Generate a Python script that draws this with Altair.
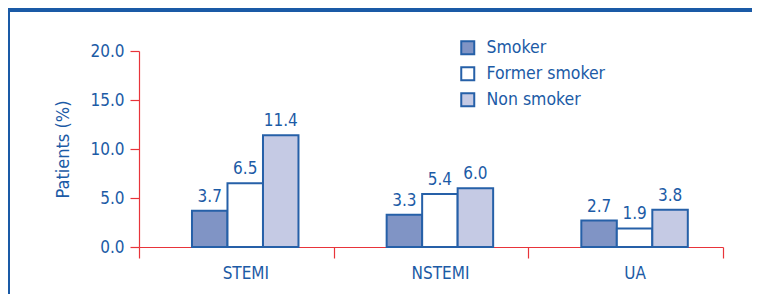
import altair as alt
import pandas as pd

categories = ["STEMI", "NSTEMI", "UA"]
groups = ["Smoker", "Former smoker", "Non smoker"]
smoker = [3.7, 3.3, 2.7]
former = [6.5, 5.4, 1.9]
non_smoker = [11.4, 6.0, 3.8]
y_ticks = [0, 5, 10, 15, 20]

rows = []
for i, c in enumerate(categories):
    for g, vals in zip(groups, [smoker, former, non_smoker]):
        rows.append({"cat": c, "group": g, "value": vals[i]})
df = pd.DataFrame(rows)

BLUE = "#1c5ba6"
RED = "#e8343a"
FONT = "DejaVu Sans Condensed"

offset_scale = alt.Scale(domain=["_gap"] + groups, paddingInner=0,
                         paddingOuter=0.742, align=0.332)

x_enc = alt.X("cat:N", sort=categories, title=None,
              scale=alt.Scale(paddingInner=0, paddingOuter=0),
              axis=alt.Axis(domainColor=RED, tickColor=RED, tickSize=11, tickWidth=1.2,
                            domainWidth=1.2, tickBand="extent", labelAngle=0,
                            labelColor=BLUE, labelFontSize=17, labelFont=FONT,
                            labelOffset=9, labelPadding=7, grid=False))
y_enc = alt.Y("value:Q", title="Patients (%)",
              scale=alt.Scale(domain=[0, 20], nice=False),
              axis=alt.Axis(values=y_ticks, format=".1f", domainColor=RED, tickColor=RED,
                            tickSize=9, tickWidth=1.2, domainWidth=1.2,
                            labelColor=BLUE, labelFontSize=17, labelFont=FONT,
                            labelPadding=6, grid=False, titleColor=BLUE,
                            titleFont=FONT, titleFontSize=18, titleFontWeight="normal",
                            titlePadding=17))

bars = alt.Chart(df).mark_bar(stroke="#2660a8", strokeWidth=2).encode(
    x=x_enc, xOffset=alt.XOffset("group:N", scale=offset_scale), y=y_enc,
    color=alt.Color("group:N", sort=groups,
                    scale=alt.Scale(domain=groups, range=["#8094c5", "#ffffff", "#c5cae4"]),
                    legend=alt.Legend(title=None, orient="none", legendX=320, legendY=-12,
                                      symbolType="square", symbolSize=169,
                                      symbolStrokeColor="#2660a8", symbolStrokeWidth=2,
                                      labelColor=BLUE, labelFontSize=17.5, labelFont=FONT,
                                      rowPadding=4, labelOffset=10))
)

labels = alt.Chart(df).mark_text(baseline="alphabetic", dy=-9, color=BLUE,
                                 fontSize=17, font=FONT).encode(
    x=alt.X("cat:N", sort=categories),
    xOffset=alt.XOffset("group:N", scale=offset_scale),
    y="value:Q", text=alt.Text("value:Q", format=".1f")
)

frame_left = alt.Chart(df).mark_rule(color="#1a5aa6", strokeWidth=3).encode(
    x=alt.value(-130.5), y=alt.value(-42.5), y2=alt.value(300))
frame_top = alt.Chart(df).mark_rule(color="#1a5aa6", strokeWidth=3).encode(
    x=alt.value(-132), x2=alt.value(700), y=alt.value(-41))

chart = alt.layer(frame_left, frame_top, bars, labels).properties(
    width=584, height=196,
    autosize=alt.AutoSizeParams(type="none"),
    padding={"left": 131, "top": 43, "right": 29, "bottom": 47},
).configure_view(stroke=None)

chart.save("out.html", embed_options={"renderer": "svg", "actions": False})
